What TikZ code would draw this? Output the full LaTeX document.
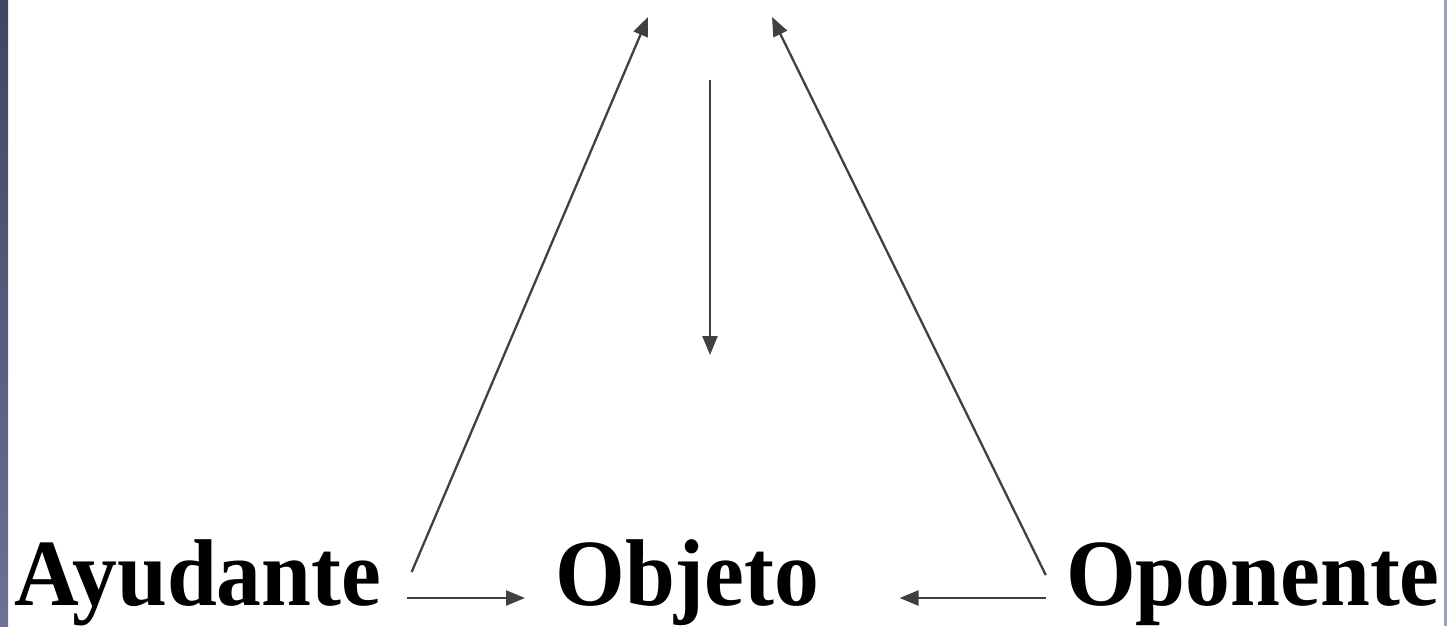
\documentclass[tikz,border=0pt]{standalone}
\usepackage{fontspec}
\setmainfont{Liberation Serif}
\usetikzlibrary{arrows.meta}

\definecolor{sidebartop}{HTML}{3F4563}
\definecolor{sidebarbot}{HTML}{6D7193}
\definecolor{edgeline}{HTML}{9AA3B5}
\definecolor{arrowgray}{HTML}{404040}

\begin{document}
\begin{tikzpicture}[x=0.02cm, y=-0.02cm,
    actant/.style={font=\fontsize{54}{60}\selectfont\bfseries, inner sep=0pt, xscale=0.945},
    arr/.style={-{Triangle[length=0.38cm, width=0.3cm]}, line width=1.3pt, draw=arrowgray}]

\useasboundingbox (0,0) rectangle (1447,626);
\fill[white] (0,0) rectangle (1447,626);

% --- frame edges ---
\shade[top color=sidebartop, bottom color=sidebarbot] (0,0) rectangle (8,626);
\fill[edgeline] (1444,0) rectangle (1447,626);

% --- actants ---
\node[actant, anchor=base west] (ayu) at (14,605) {Ayudante};
\node[actant, anchor=base west] (obj) at (555,605) {Objeto};
\node[actant, anchor=base east] (opo) at (1440,605) {Oponente};

% --- free ends at the top ---
\coordinate (topL) at (648,17);
\coordinate (topR) at (772,17);
\coordinate (vtop) at (710,80);
\coordinate (vbot) at (710,355);

% --- connectors ---
\draw[arr] ([xshift=0.5cm, yshift=0.14cm]ayu.base east) -- ([xshift=-0.6cm, yshift=0.14cm]obj.base west);
\draw[arr] ([xshift=-0.4cm, yshift=0.14cm]opo.base west) -- ([xshift=1.6cm, yshift=0.14cm]obj.base east);
\draw[arr] ([xshift=0.6cm, yshift=0.66cm]ayu.base east) -- (topL);
\draw[arr] ([xshift=-0.4cm, yshift=0.6cm]opo.base west) -- (topR);
\draw[arr] (vtop) -- (vbot);

\end{tikzpicture}
\end{document}
